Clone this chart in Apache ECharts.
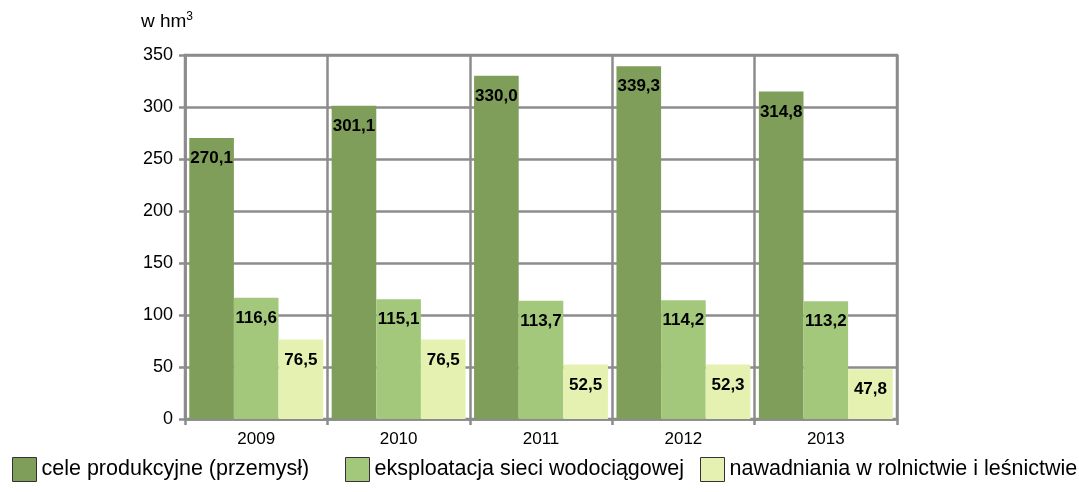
<!DOCTYPE html>
<html><head><meta charset="utf-8">
<script src="https://cdn.jsdelivr.net/npm/echarts@6/dist/echarts.min.js"></script>
<style>html,body{margin:0;padding:0;background:#fff}#c{width:1079px;height:492px}</style>
</head><body><div id="c"></div>
<script>
const categories = ['2009', '2010', '2011', '2012', '2013'];
const seriesNames = ['cele produkcyjne (przemysł)', 'eksploatacja sieci wodociągowej', 'nawadniania w rolnictwie i leśnictwie'];
const przemysl = [270.1, 301.1, 330.0, 339.3, 314.8];
const wodociagi = [116.6, 115.1, 113.7, 114.2, 113.2];
const nawadnianie = [76.5, 76.5, 52.5, 52.3, 47.8];
const colors = ['#7f9e59', '#a3c87b', '#e4f1b1'];
const FONT = 'Liberation Sans, Arial, sans-serif';
const GRID = '#8c8c8c';

const chart = echarts.init(document.getElementById('c'));
const mk = (name, data, color) => ({
  name, type: 'bar', data, barGap: '0%', barCategoryGap: '6%',
  itemStyle: { color },
  label: {
    show: true, position: 'insideTop', distance: 12,
    fontFamily: FONT, fontWeight: 'bold', fontSize: 17, color: '#000',
    formatter: p => p.value.toFixed(1).replace('.', ',')
  }
});
const leg = (name, left) => ({
  data: [name], left, top: 452, itemWidth: 24, itemHeight: 24, icon: 'rect',
  itemStyle: { borderColor: '#333', borderWidth: 1 },
  textStyle: { fontFamily: FONT, fontSize: 21.5, color: '#000' },
  selectedMode: false
});
chart.setOption({
  animation: false,
  textStyle: { fontFamily: FONT },
  grid: { left: 185, right: 182, top: 55, bottom: 73, show: true, borderColor: GRID, borderWidth: 2.5, backgroundColor: 'transparent' },
  legend: [leg(seriesNames[0], 7), leg(seriesNames[1], 340), leg(seriesNames[2], 695)],
  xAxis: {
    type: 'category', data: categories,
    axisLine: { show: true, lineStyle: { color: GRID, width: 2.5 } },
    axisTick: { show: true, length: 6, lineStyle: { color: GRID, width: 2.5 } },
    splitLine: { show: true, lineStyle: { color: GRID, width: 2.5 } },
    axisLabel: { fontFamily: FONT, fontSize: 17, color: '#000', margin: 12 }
  },
  yAxis: {
    type: 'value', min: 0, max: 350, interval: 50,
    name: '{a|w hm}{s|3}', nameLocation: 'end', nameGap: 22,
    nameTextStyle: {
      align: 'right', padding: [0, -8, 0, 0],
      rich: { a: { fontFamily: FONT, fontSize: 19, color: '#000' }, s: { fontFamily: FONT, fontSize: 12, color: '#000', verticalAlign: 'top', padding: [0, 0, 10, 0] } }
    },
    axisLine: { show: true, lineStyle: { color: GRID, width: 2.5 } },
    axisTick: { show: true, length: 6, lineStyle: { color: GRID, width: 2.5 } },
    splitLine: { show: true, lineStyle: { color: GRID, width: 2.5 } },
    axisLabel: { fontFamily: FONT, fontSize: 18, color: '#000', margin: 12 }
  },
  series: [mk(seriesNames[0], przemysl, colors[0]), mk(seriesNames[1], wodociagi, colors[1]), mk(seriesNames[2], nawadnianie, colors[2])]
});
</script></body></html>
